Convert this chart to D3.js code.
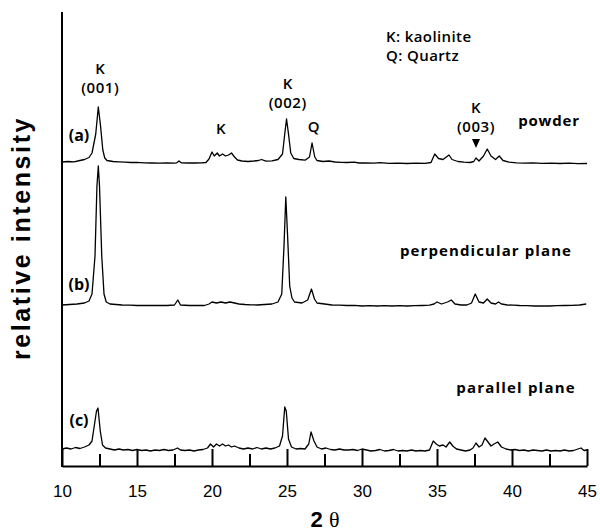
<!DOCTYPE html>
<html>
<head>
<meta charset="utf-8">
<script src="https://cdn.jsdelivr.net/npm/d3@7"></script>
<style>
  body { margin: 0; background: #fff; }
  svg text { fill: #000; }
</style>
</head>
<body>
<div id="chart"></div>
<script>
// 2theta positions of the axis ticks
var majorTicks = [10, 15, 20, 25, 30, 35, 40, 45];
var minorTicks = [12.5, 17.5, 22.5, 27.5, 32.5, 37.5, 42.5];

// (a) powder : [2theta, intensity above baseline]
var powder = [
  [10.0, 2], [10.4, 2.5], [10.8, 2.2], [11.2, 3.5], [11.5, 4.5], [11.8, 6.5], [12.0, 11],
  [12.25, 30], [12.42, 57], [12.57, 38], [12.72, 14], [12.85, 6], [13.0, 3.5], [13.4, 2.5],
  [13.8, 2.2], [14.2, 1.8], [14.6, 1.5], [15.0, 1.6], [15.5, 1.2], [16.0, 1.0], [16.5, 0.8],
  [17.0, 1.0], [17.5, 0.8], [17.65, 1.2], [17.8, 3], [17.95, 1.2], [18.4, 1.0], [18.9, 1.0],
  [19.3, 1.2], [19.6, 1.5], [19.8, 5], [20.0, 12], [20.15, 8], [20.35, 11], [20.5, 8],
  [20.7, 10], [20.9, 8], [21.1, 9], [21.3, 11], [21.5, 7], [21.7, 4], [22.0, 3],
  [22.4, 2.5], [22.8, 3], [23.1, 3.5], [23.3, 4.5], [23.6, 2.8], [24.0, 3.2], [24.4, 4.5],
  [24.7, 10], [24.85, 30], [24.97, 45], [25.1, 30], [25.25, 11], [25.45, 5.5], [25.8, 4.5],
  [26.2, 3.8], [26.5, 7], [26.67, 21], [26.85, 7], [27.0, 3.5], [27.4, 2.5], [27.8, 3],
  [28.2, 2], [28.6, 1.6], [29.0, 1.5], [29.5, 1.8], [29.8, 1.0], [30.2, 1.2], [30.8, 0.9],
  [31.2, 1.3], [31.8, 0.7], [32.4, 0.9], [33.0, 0.5], [33.6, 0.8], [34.2, 0.6], [34.6, 1.5],
  [34.85, 10], [35.1, 5.5], [35.4, 4.5], [35.8, 9], [36.0, 4.5], [36.4, 2.5], [36.8, 1.8],
  [37.2, 1.5], [37.45, 2.5], [37.6, 6], [37.8, 3], [38.1, 8], [38.35, 15], [38.6, 8],
  [38.9, 4.5], [39.15, 8], [39.4, 3.5], [39.8, 1.8], [40.3, 1.2], [40.8, 0.9], [41.4, 1.1],
  [42.0, 0.6], [42.6, 0.9], [43.2, 0.5], [43.8, 0.8], [44.4, 0.4], [45.0, 0.5]
];

// (b) perpendicular plane
var perpendicular = [
  [10.0, 1], [10.5, 1.5], [11.0, 2], [11.5, 3], [11.8, 5], [12.0, 12], [12.2, 50],
  [12.33, 120], [12.42, 140], [12.5, 120], [12.65, 50], [12.8, 12], [12.95, 4], [13.2, 2],
  [13.6, 1.5], [14.0, 1], [14.5, 0.8], [15.0, 0.5], [15.5, 0.7], [16.0, 0.5], [16.5, 0.6],
  [17.0, 0.5], [17.5, 1], [17.72, 6], [17.9, 1], [18.5, 0.5], [19.0, 0.7], [19.5, 0.5],
  [19.8, 2], [20.0, 4], [20.3, 3], [20.6, 4], [20.9, 3], [21.2, 4], [21.5, 3], [21.8, 2],
  [22.2, 1.5], [22.6, 1.2], [23.0, 1], [23.5, 1.5], [24.0, 2], [24.4, 4], [24.65, 12],
  [24.8, 60], [24.92, 109], [25.04, 70], [25.18, 20], [25.33, 8], [25.5, 4], [26.0, 3],
  [26.38, 6], [26.63, 17], [26.83, 7], [27.0, 3], [27.5, 2], [28.0, 1], [28.5, 0.8],
  [29.0, 0.5], [29.5, 0.6], [30.0, 0], [30.5, 0.4], [31.0, 0], [31.5, 0.3], [32.0, 0],
  [32.5, 0.3], [33.0, 0], [33.5, 0.3], [34.0, 0.5], [34.5, 0.8], [34.8, 2], [35.0, 4],
  [35.3, 2], [35.7, 4], [35.95, 6], [36.2, 2], [36.6, 1], [37.0, 1], [37.3, 3],
  [37.55, 12], [37.8, 4], [38.1, 3], [38.35, 7], [38.6, 3], [38.9, 2], [39.1, 4],
  [39.3, 2], [39.7, 1], [40.1, 0.8], [40.5, 0.5], [41.0, 0.3], [41.5, 0], [42.0, 0.2],
  [42.5, 0], [43.0, 0.3], [43.5, 0.5], [44.0, 0.7], [44.5, 1], [44.95, 2]
];

// (c) parallel plane
var parallel = [
  [10.0, 2], [10.3, 3], [10.6, 2], [10.9, 3.5], [11.2, 2.5], [11.5, 4], [11.8, 6],
  [12.0, 10], [12.15, 25], [12.3, 40], [12.4, 43], [12.55, 20], [12.7, 6], [12.9, 3],
  [13.2, 2], [13.5, 1], [13.8, 2], [14.1, 1], [14.4, 1.5], [14.7, 0.5], [15.0, 1.5],
  [15.3, 0.5], [15.6, 1], [15.9, 0], [16.2, 1], [16.5, 0.5], [16.8, 1.5], [17.1, 0.5],
  [17.4, 1], [17.7, 3], [17.9, 1], [18.2, 0.5], [18.5, 1], [18.8, 0], [19.1, 1],
  [19.4, 1.5], [19.7, 3], [19.9, 7], [20.1, 4], [20.3, 7], [20.5, 5], [20.7, 7],
  [20.9, 5], [21.1, 6], [21.3, 4], [21.5, 5], [21.8, 3], [22.1, 2], [22.4, 3],
  [22.7, 2], [23.0, 3.5], [23.3, 2], [23.6, 3], [23.9, 2], [24.2, 3], [24.5, 5],
  [24.7, 15], [24.85, 44], [24.95, 40], [25.1, 12], [25.3, 4], [25.6, 2], [25.9, 2.5],
  [26.2, 2], [26.45, 7], [26.6, 19], [26.8, 10], [27.0, 4], [27.3, 2], [27.6, 3],
  [27.9, 1.5], [28.2, 1], [28.5, 2], [28.8, 1], [29.1, 1], [29.4, 1.5], [29.7, 0.5],
  [30.0, 2], [30.3, 1], [30.6, 0], [30.9, 0.5], [31.2, 1.5], [31.5, 0], [31.8, 0.5],
  [32.1, 1.5], [32.4, 0], [32.7, 0.5], [33.0, 0], [33.3, 1], [33.6, 0], [33.9, 0.5],
  [34.2, 0], [34.5, 1], [34.75, 10], [34.95, 7], [35.15, 5], [35.4, 6], [35.6, 4],
  [35.85, 9], [36.05, 5], [36.3, 2], [36.6, 1], [36.9, 0], [37.2, 1], [37.4, 3],
  [37.6, 8], [37.8, 4], [38.0, 6], [38.2, 13], [38.4, 9], [38.6, 5], [38.8, 7],
  [39.05, 9], [39.3, 4], [39.6, 2], [39.9, 1], [40.2, 1.5], [40.5, 0.5], [40.8, 1],
  [41.1, 0], [41.4, 1], [41.7, 0.5], [42.0, 0], [42.3, 1], [42.6, 0], [42.9, 0.5],
  [43.2, 0], [43.5, 1], [43.8, 0], [44.1, 0.5], [44.4, 2], [44.6, 3], [44.8, 0.5], [45.0, 1]
];

// stacking offset of each pattern (same intensity units)
var traces = [
  { key: "(a)", name: "powder", data: powder, offset: 302 },
  { key: "(b)", name: "perpendicular plane", data: perpendicular, offset: 160 },
  { key: "(c)", name: "parallel plane", data: parallel, offset: 15 }
];

var width = 600, height = 532;
var mLeft = 62, mRight = 587, mTop = 12, mBottom = 466;

var svg = d3.select("#chart").append("svg")
  .attr("width", width)
  .attr("height", height);

var x = d3.scaleLinear().domain([10, 45]).range([mLeft, mRight]);
var y = d3.scaleLinear().domain([0, mBottom - mTop]).range([mBottom, mTop]);

var line = d3.line()
  .x(function(d) { return x(d[0]); })
  .y(function(d) { return y(d[1]); });

// patterns
traces.forEach(function(t) {
  svg.append("path")
    .datum(t.data.map(function(d) { return [d[0], d[1] + t.offset]; }))
    .attr("fill", "none")
    .attr("stroke", "#000")
    .attr("stroke-width", 1.3)
    .attr("stroke-linejoin", "round")
    .attr("d", line);
});

// axes
var xAxis = svg.append("g")
  .attr("transform", "translate(0," + mBottom + ")")
  .call(d3.axisBottom(x).tickValues(majorTicks).tickSizeInner(-17).tickSizeOuter(0).tickPadding(19));
xAxis.selectAll("line").attr("stroke-width", 2);
xAxis.select(".domain").attr("stroke-width", 2);
xAxis.selectAll("text")
  .style("font-family", "'Liberation Sans', Arial, sans-serif")
  .style("font-size", "17px");

var xMinor = svg.append("g")
  .attr("transform", "translate(0," + mBottom + ")")
  .call(d3.axisBottom(x).tickValues(minorTicks).tickSizeInner(-12).tickSizeOuter(0).tickFormat(""));
xMinor.select(".domain").remove();
xMinor.selectAll("line").attr("stroke-width", 2);

svg.append("line")
  .attr("x1", mLeft).attr("x2", mLeft)
  .attr("y1", mTop).attr("y2", mBottom + 1)
  .attr("stroke", "#000")
  .attr("stroke-width", 2);

// axis titles
svg.append("text")
  .attr("transform", "translate(30,238) rotate(-90)")
  .attr("text-anchor", "middle")
  .style("font-family", "'Liberation Sans', Arial, sans-serif")
  .style("font-weight", "bold")
  .style("font-size", "25px")
  .style("letter-spacing", "2.6px")
  .text("relative intensity");

var xt = svg.append("text")
  .attr("x", 325).attr("y", 527)
  .attr("text-anchor", "middle")
  .style("font-family", "'Liberation Sans', Arial, sans-serif")
  .style("font-size", "22px");
xt.append("tspan").style("font-weight", "bold").text("2 ");
xt.append("tspan").style("font-family", "'Liberation Serif', serif").text("\u03b8");

// annotations
var lab = "'Open Sans', 'DejaVu Sans', sans-serif";
function label(txt, xx, yy, size, weight, anchor, ls) {
  return svg.append("text")
    .attr("x", xx).attr("y", yy)
    .attr("text-anchor", anchor || "middle")
    .attr("dominant-baseline", "middle")
    .style("font-family", lab)
    .style("font-size", size + "px")
    .style("font-weight", weight)
    .style("letter-spacing", (ls || 0) + "px")
    .text(txt);
}

var peakLabels = [
  { t: "K", a: 12.55, y: 70 }, { t: "(001)", a: 12.55, y: 89 },
  { t: "K", a: 20.6, y: 130 },
  { t: "K", a: 25.05, y: 85 }, { t: "(002)", a: 25.05, y: 104 },
  { t: "Q", a: 26.8, y: 128 },
  { t: "K", a: 37.6, y: 109 }, { t: "(003)", a: 37.6, y: 128 }
];
peakLabels.forEach(function(p) { label(p.t, x(p.a), p.y, 15, 600, "middle", 0.6); });

// arrow marker at K(003)
var ax = x(37.6);
svg.append("path")
  .attr("d", "M" + (ax - 4) + ",139 L" + (ax + 4) + ",139 L" + ax + ",148 Z")
  .attr("fill", "#000");

label("K: kaolinite", 386, 38, 15, 600, "start", 0.4);
label("Q: Quartz", 386, 57, 15, 600, "start", 0.4);

label("(a)", 79, 137, 16, 700);
label("(b)", 79, 286, 16, 700);
label("(c)", 79, 422, 16, 700);

label("powder", 549, 122, 15, 700, "middle", 0.8);
label("perpendicular plane", 486, 252, 15, 700, "middle", 1.1);
label("parallel plane", 516, 389, 15, 700, "middle", 1.2);
</script>
</body>
</html>
